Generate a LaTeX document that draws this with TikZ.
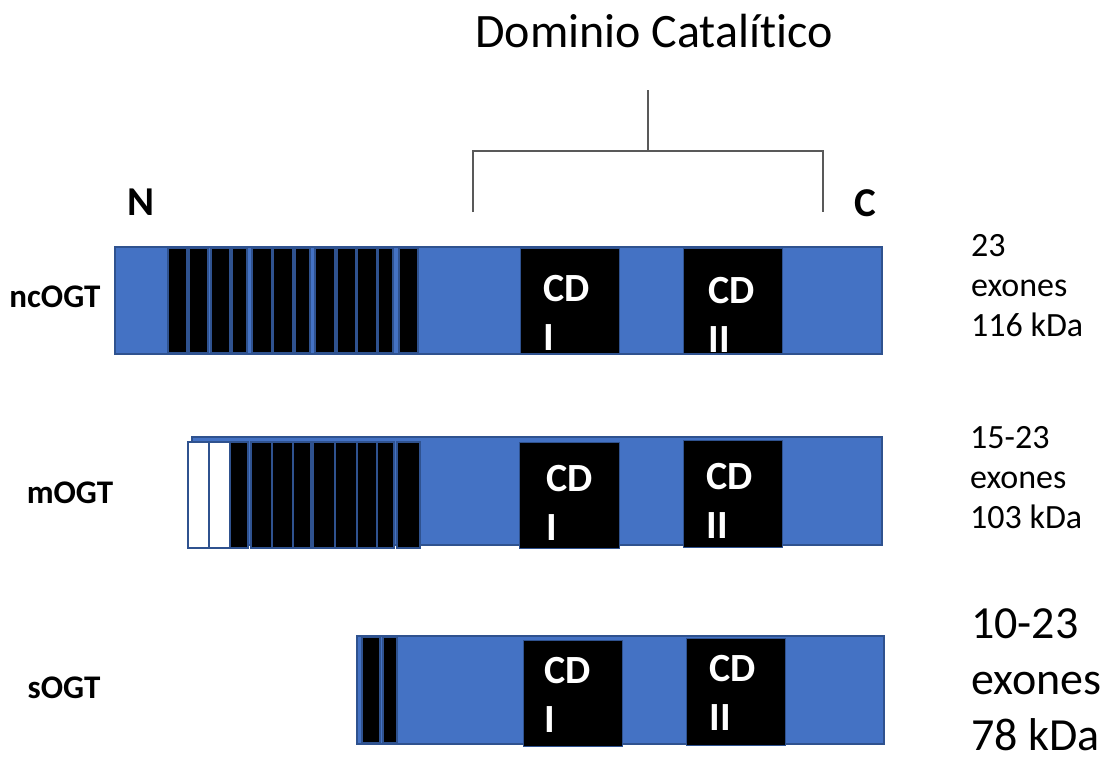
\documentclass[tikz,border=0pt]{standalone}
\usepackage{fontspec}
\setmainfont{Carlito}[Ligatures=NoCommon]
\definecolor{barblue}{HTML}{4472C4}
\definecolor{edgeblue}{HTML}{2F528F}
\definecolor{brackgray}{HTML}{595959}

\begin{document}
\begin{tikzpicture}[x=1pt,y=-1pt,
  barbox/.style={fill=barblue,draw=edgeblue,line width=1.5pt},
  exon/.style={fill=black,draw=edgeblue,line width=1.5pt},
  emptyexon/.style={fill=white,draw=edgeblue,line width=1.5pt},
  cdbox/.style={fill=black,draw=edgeblue,line width=1pt},
  cdtext/.style={text=white,font=\bfseries\fontsize{40}{49}\selectfont,align=left,inner sep=0pt},
  isolabel/.style={font=\bfseries\fontsize{33}{38}\selectfont,inner sep=0pt},
  endlabel/.style={font=\bfseries\fontsize{41}{48}\selectfont,inner sep=0pt}]
\useasboundingbox (0,0) rectangle (1114,761);

% title and bracket
\node[font=\fontsize{48}{58}\selectfont,inner sep=0pt] (title) at (654,31) {Dominio Catalítico};
\draw[brackgray,line width=1.2pt] (648,90)--(648,151);
\draw[brackgray,line width=1.2pt] (473,212)--(473,151)--(823,151)--(823,212);
\node[endlabel] (nterm) at (141,202) {N};
\node[endlabel] (cterm) at (865,203) {C};

% ncOGT
\draw[barbox] (115,247) rectangle (882,354);
\foreach \a/\b in {168/187,189/208,211/230,232/247,252/272,273/293,295/310,315/335,337/356,357/377,378/393,399/418}
  \draw[exon] (\a,248) rectangle (\b,353);
\draw[cdbox] (520,248) rectangle (619,353);
\draw[cdbox] (683,248) rectangle (782,353);
\node[cdtext] (nccdi) at (567,313) {CD\\I};
\node[cdtext] (nccdii) at (732,315) {CD\\II};
\node[isolabel] (ncogt) at (55,297) {ncOGT};
\node[font=\fontsize{34}{40}\selectfont,align=left,inner sep=0pt,anchor=west] (ncinfo) at (971,286) {23\\exones\\116 kDa};

% mOGT
\draw[barbox] (192,437) rectangle (882,545);
\foreach \a/\b in {188/209,209/230}
  \draw[emptyexon] (\a,442) rectangle (\b,548);
\foreach \a/\b in {230/248,251/272,272/293,293/311,313/335,335/357,357/377,377/394,397/420}
  \draw[exon] (\a,442) rectangle (\b,548);
\draw[cdbox] (519,442) rectangle (619,548);
\draw[cdbox] (683,440) rectangle (782,547);
\node[cdtext] (mcdi) at (570,503) {CD\\I};
\node[cdtext] (mcdii) at (730,501) {CD\\II};
\node[isolabel] (mogt) at (70,493) {mOGT};
\node[font=\fontsize{34}{40}\selectfont,align=left,inner sep=0pt,anchor=west] (minfo) at (970,478) {15-23\\exones\\103 kDa};

% sOGT
\draw[barbox] (357,636) rectangle (884,744);
\foreach \a/\b in {362/380,383/397}
  \draw[exon] (\a,637) rectangle (\b,743);
\draw[cdbox] (523,640) rectangle (622,746);
\draw[cdbox] (686,638) rectangle (785,745);
\node[cdtext] (scdi) at (568,695) {CD\\I};
\node[cdtext] (scdii) at (733,693) {CD\\II};
\node[isolabel] (sogt) at (64,688) {sOGT};
\node[font=\fontsize{46}{56}\selectfont,align=left,inner sep=0pt,anchor=west] (sinfo) at (971,680) {10-23\\exones\\78 kDa};
\end{tikzpicture}
\end{document}
